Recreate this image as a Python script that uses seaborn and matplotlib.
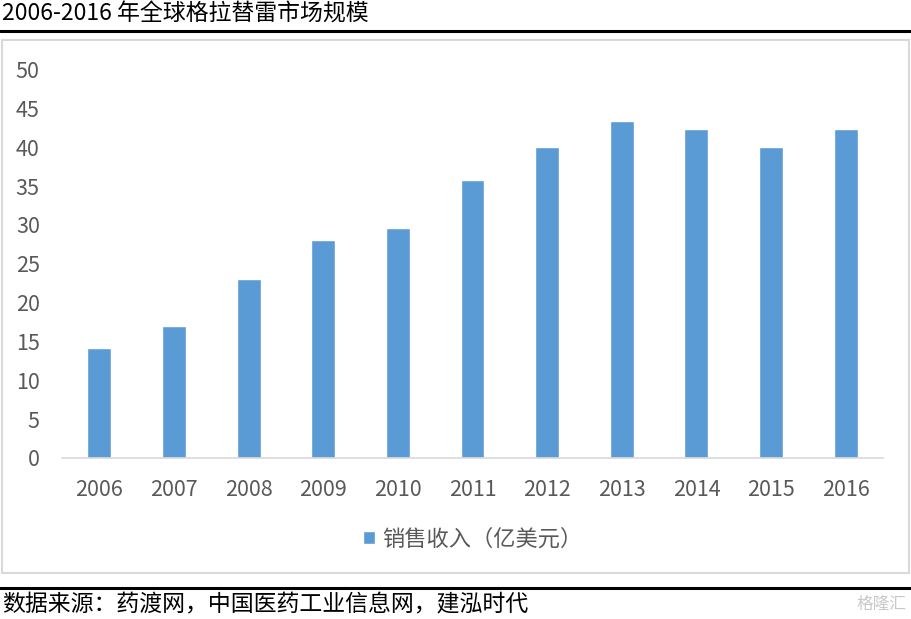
import matplotlib
matplotlib.use("Agg")
import matplotlib.pyplot as plt
import seaborn as sns
import pandas as pd
from matplotlib.patches import Rectangle
from matplotlib.lines import Line2D

# data
years = ["2006", "2007", "2008", "2009", "2010", "2011", "2012", "2013", "2014", "2015", "2016"]
sales = [14.1, 17.0, 23.0, 28.1, 29.6, 35.8, 40.0, 43.4, 42.4, 40.0, 42.3]
series_name = "销售收入（亿美元）"
title = "2006-2016 年全球格拉替雷市场规模"
source = "数据来源：药渡网，中国医药工业信息网，建泓时代"

df = pd.DataFrame({"year": years, "sales": sales})

sns.set_theme(style="white")
plt.rcParams["font.family"] = ["Noto Sans CJK SC", "DejaVu Sans"]

W, H = 911, 619
fig = plt.figure(figsize=(W / 100, H / 100), dpi=100)
fig.patch.set_facecolor("white")

# plot area in pixel coords of the reference
left, right, top, bottom = 62, 883, 69.5, 458
ax = fig.add_axes([left / W, 1 - bottom / H, (right - left) / W, (bottom - top) / H])

sns.barplot(data=df, x="year", y="sales", color="#5B9BD5", width=0.32,
            saturation=1, label=series_name, ax=ax)

ax.set_ylim(0, 50)
ax.set_yticks(range(0, 51, 5))
ax.set_xlabel("")
ax.set_ylabel("")
for s in ["top", "right", "left"]:
    ax.spines[s].set_visible(False)
ax.spines["bottom"].set_color("#d9d9d9")
ax.spines["bottom"].set_linewidth(1.2)
ax.tick_params(axis="both", length=0, labelsize=15.5, colors="#595959")
ax.tick_params(axis="y", pad=16)
ax.tick_params(axis="x", pad=15)

leg = ax.legend(loc="center", bbox_to_anchor=(0.5, 1 - (539 - top) / (bottom - top)),
                frameon=False, fontsize=16, handlelength=0.55, handleheight=0.55,
                handletextpad=0.3, labelcolor="#595959")

# outer chart frame
fig.patches.append(Rectangle((2 / W, 1 - 573 / H), 907 / W, 533 / H, transform=fig.transFigure,
                             fill=False, edgecolor="#d9d9d9", linewidth=1.5))

# title and rules
fig.text(2 / W, 1 - 14 / H, title, fontsize=16.5, color="black", va="center", ha="left")
fig.add_artist(Line2D([0, 1], [1 - 31 / H, 1 - 31 / H], color="black", linewidth=2.2,
                      transform=fig.transFigure))
fig.add_artist(Line2D([0, 1], [1 - 588 / H, 1 - 588 / H], color="black", linewidth=2.2,
                      transform=fig.transFigure))
fig.text(2 / W, 1 - 605 / H, source, fontsize=16.5, color="black", va="center", ha="left")
fig.text(906 / W, 1 - 604 / H, "格隆汇", fontsize=12, color="#c8c8c8", va="center", ha="right")

fig.savefig("out.png", dpi=100, facecolor="white")
